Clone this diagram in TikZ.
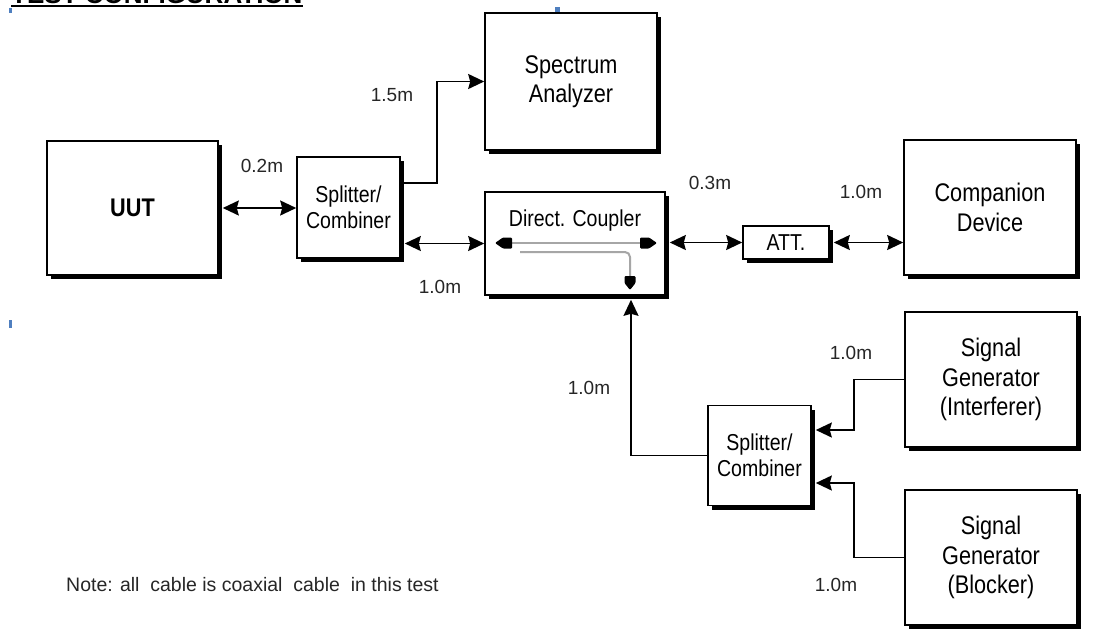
\documentclass[tikz,border=0pt]{standalone}
\usepackage{fontspec}
\setmainfont{Liberation Sans}
\newfontfamily\narrowfont[FakeStretch=0.85]{Liberation Sans}
\usetikzlibrary{arrows.meta,shadows}
\begin{document}
\begin{tikzpicture}[x=1pt,y=-1pt,
  >={Stealth[length=16pt,width=15pt,inset=2pt]},
  box/.style={draw, line width=1.6pt, fill=white, inner sep=0pt, align=center,
    drop shadow={shadow xshift=4pt, shadow yshift=-4pt, fill=black, opacity=1}},
  bigbox/.style={box, font=\narrowfont\fontsize{25.5}{29.5}\selectfont},
  smallbox/.style={box, font=\narrowfont\fontsize{23}{26.5}\selectfont},
  conn/.style={line width=1.8pt},
  lbl/.style={font=\fontsize{19}{22}\selectfont, text=black!85, inner sep=0pt},
  bluemark/.style={fill={rgb,255:red,79;green,127;blue,191}}
]
\useasboundingbox (0,0) rectangle (1098,630);
\clip (0,0) rectangle (1098,630);

% title (cut off at the top)
\node[anchor=base west, inner sep=0pt, font=\bfseries\fontsize{26}{30}\selectfont] (title) at (11,3) {TEST CONFIGURATION};
\draw[line width=2pt] ([yshift=-3pt]title.base west) -- ([yshift=-3pt]title.base east);

% small marks
\fill[bluemark] (9,8) rectangle (12,13);
\fill[bluemark] (555,7) rectangle (560,13);
\fill[bluemark] (9,320) rectangle (12,328);

% boxes
\node[bigbox, minimum width=171pt, minimum height=134pt] (uut) at (132.5,208) {\bfseries UUT};
\node[smallbox, minimum width=103pt, minimum height=101pt] (sp1) at (348.5,207.5) {Splitter/\\Combiner};
\node[bigbox, minimum width=172pt, minimum height=137pt] (sa) at (571,81.5) {Spectrum\\Analyzer};
\node[box, minimum width=180pt, minimum height=103pt] (dc) at (575,243.5) {};
\node[inner sep=0pt, font=\narrowfont\fontsize{23}{26}\selectfont] (dct) at (575,221) {Direct. Coupler};
\node[smallbox, minimum width=86pt, minimum height=33pt] (att) at (786,242.5) {ATT.};
\node[bigbox, minimum width=172pt, minimum height=135pt] (comp) at (990,207.5) {Companion\\Device};
\node[bigbox, minimum width=172pt, minimum height=135pt] (sgi) at (991,379.5) {Signal\\Generator\\(Interferer)};
\node[smallbox, minimum width=103pt, minimum height=100pt] (sp2) at (759.5,455.5) {Splitter/\\Combiner};
\node[bigbox, minimum width=172pt, minimum height=135pt] (sgb) at (991,557.5) {Signal\\Generator\\(Blocker)};

% coupler internals
\draw[gray!70, line width=2pt] (510,243) -- (642,243);
\fill[rounded corners=1pt] (495,243) -- (503,237.5) -- (512,237.5) -- (512,248.5) -- (503,248.5) -- cycle;
\fill[rounded corners=1pt] (657,243) -- (649,237.5) -- (640,237.5) -- (640,248.5) -- (649,248.5) -- cycle;
\draw[gray!70, line width=2pt, rounded corners=5pt] (520,252) -| (630,278);
\fill[rounded corners=1pt] (630,290) -- (624.5,283) -- (624.5,276) -- (635.5,276) -- (635.5,283) -- cycle;

% connectors
\draw[conn, <->, shorten <=4pt] (uut.east) -- (uut.east -| sp1.west);
\draw[conn, ->] ([yshift=24.5pt]sp1.east) -- ++(36,0) |- (sa.west);
\draw[conn, <->, shorten <=4pt] (dc.west -| sp1.east) -- (dc.west);
\draw[conn, <->, shorten <=4pt] (att.west -| dc.east) -- (att.west);
\draw[conn, <->, shorten <=4pt] (att.east) -- (att.east -| comp.west);
\draw[conn, ->] (sp2.west) -| ([xshift=56pt,yshift=-4pt]dc.south);
\draw[conn, ->] (sgi.west) -- ++(-50,0) |- ([xshift=4pt,yshift=25.5pt]sp2.east);
\draw[conn, ->] (sgb.west) -- ++(-50,0) |- ([xshift=4pt,yshift=-27.5pt]sp2.east);

% labels
\node[lbl] (l02) at (262,166) {0.2m};
\node[lbl] (l15) at (392,95) {1.5m};
\node[lbl] (l10a) at (440,287) {1.0m};
\node[lbl] (l03) at (710,183) {0.3m};
\node[lbl] (l10b) at (861,192) {1.0m};
\node[lbl] (l10c) at (851,353) {1.0m};
\node[lbl] (l10d) at (589,388) {1.0m};
\node[lbl] (l10e) at (836,585) {1.0m};

\node[anchor=west, inner sep=0pt, font=\fontsize{19.5}{22}\selectfont, text=black!85] (note) at (66,585) {Note: all\ \ cable\ is coaxial\ \ cable\ \ in this test};
\end{tikzpicture}
\end{document}
